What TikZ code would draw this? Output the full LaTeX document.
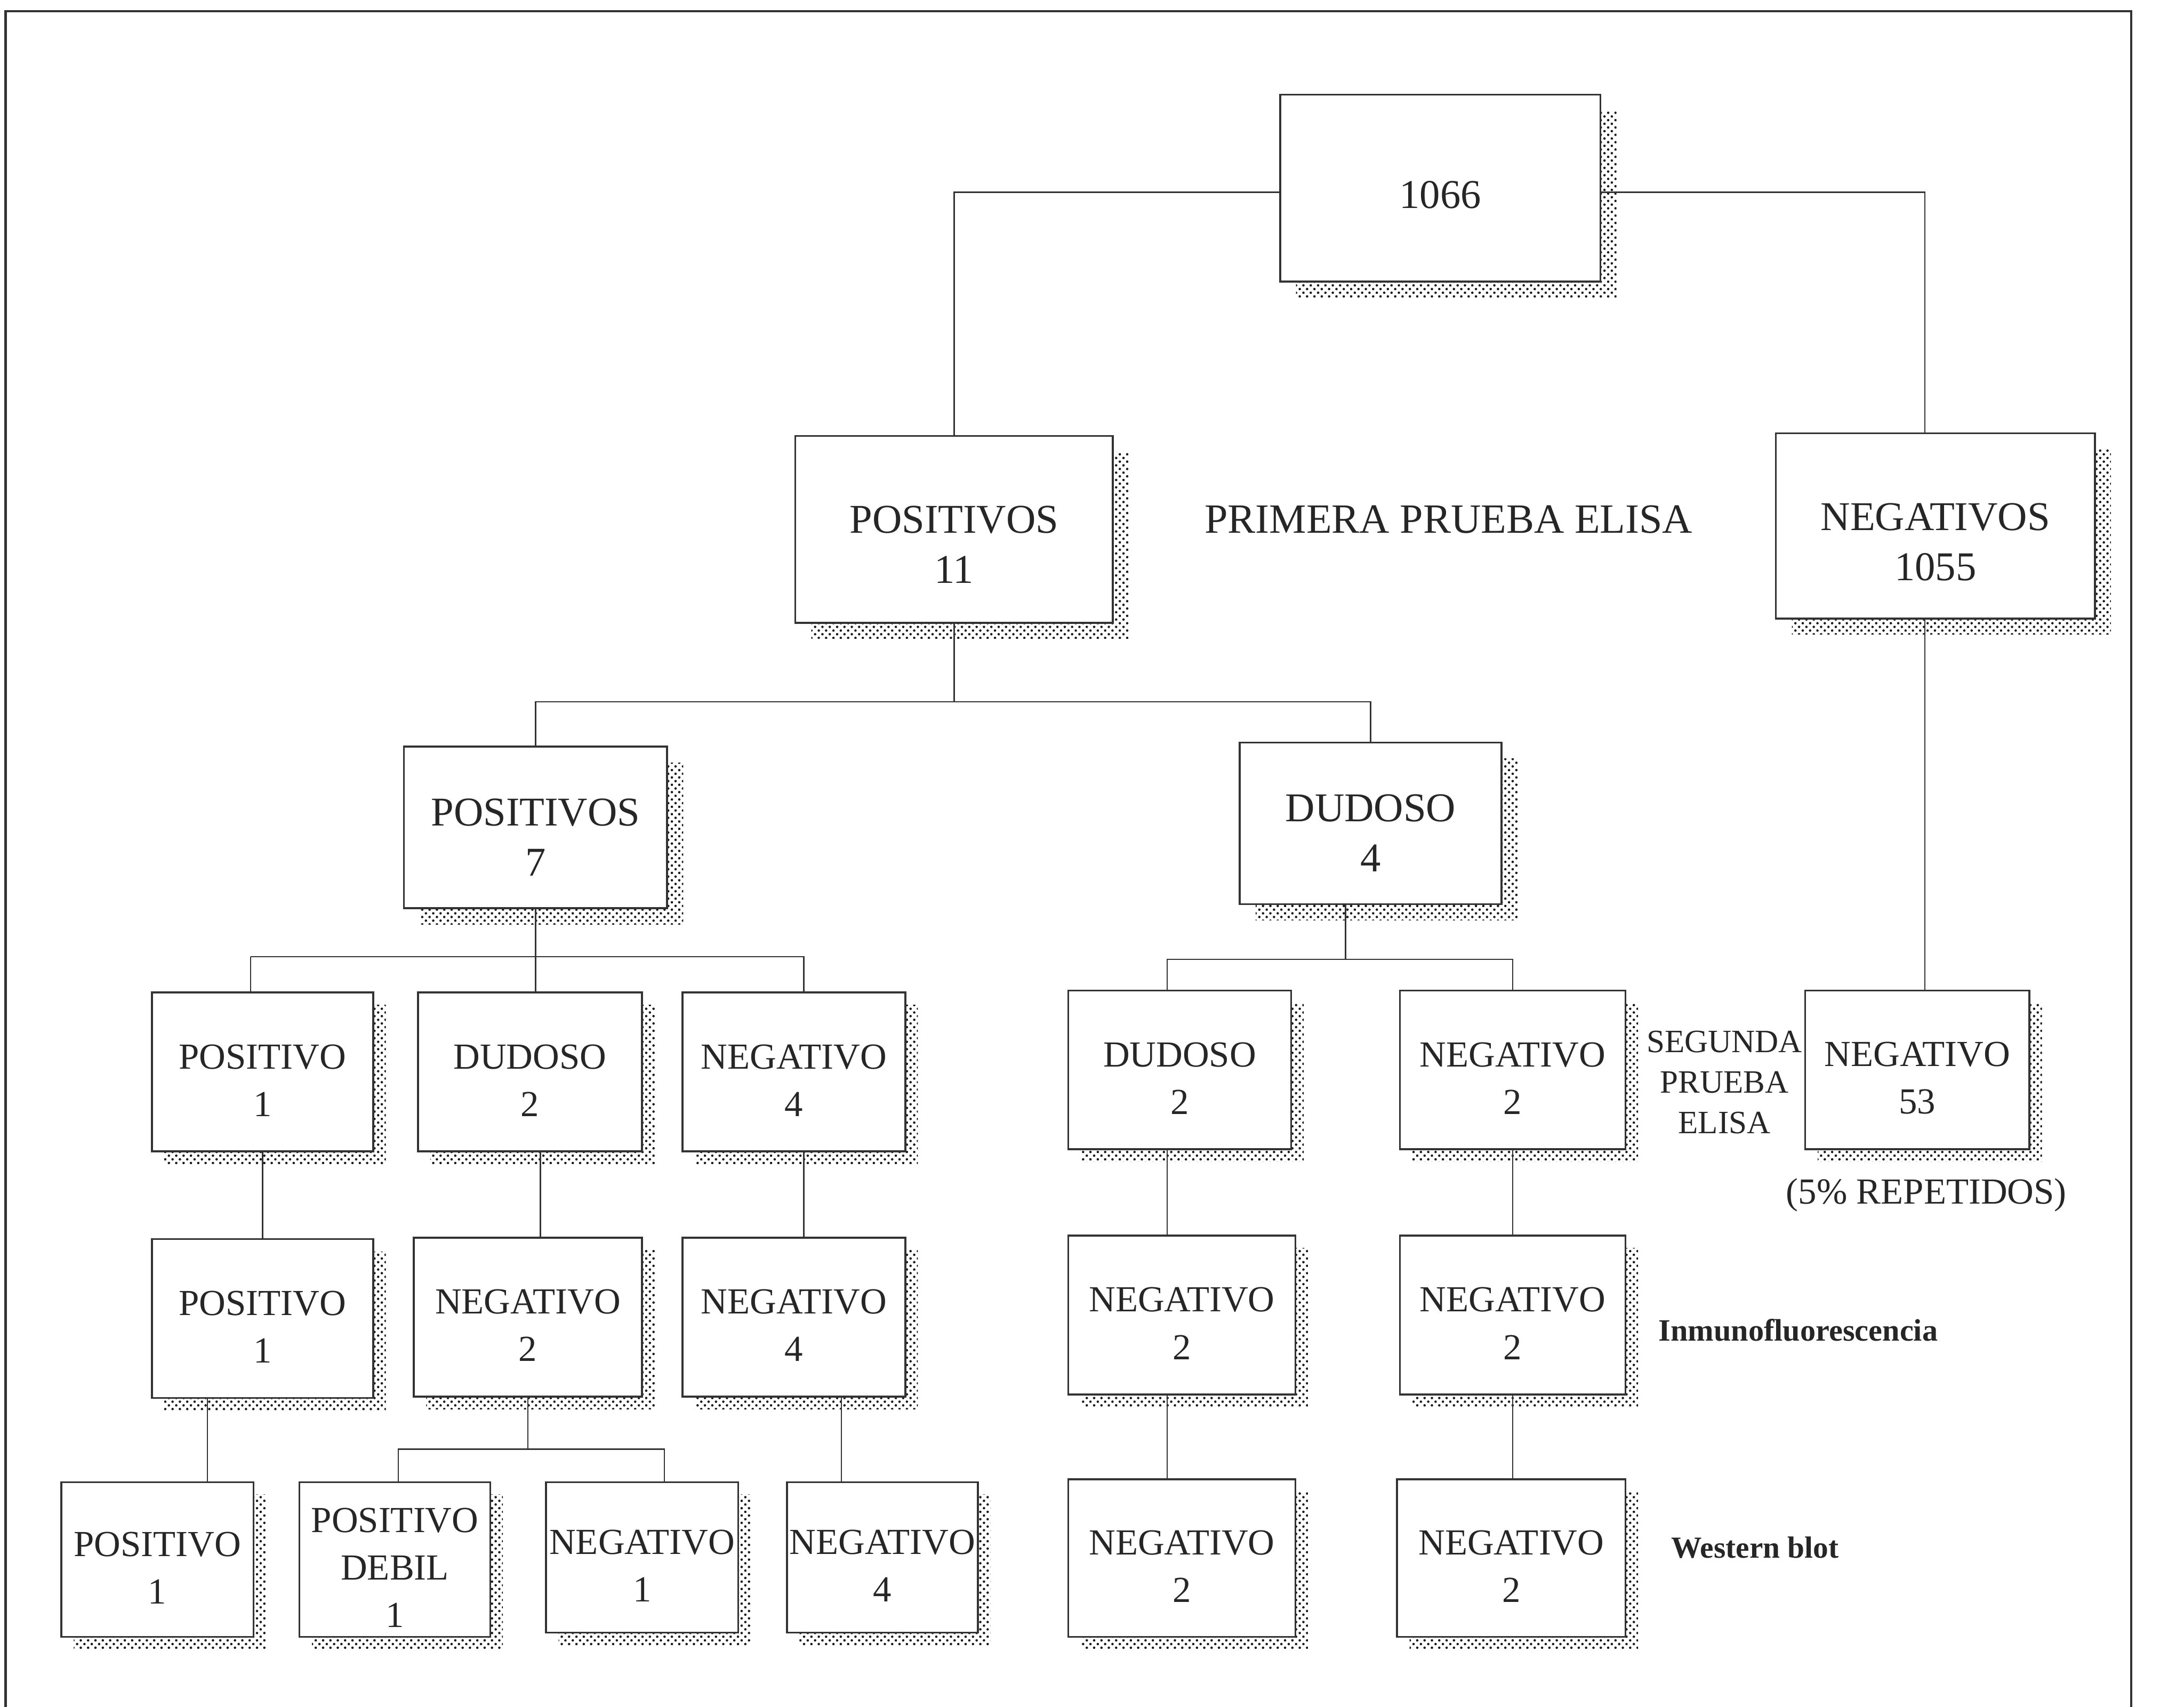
\documentclass[tikz,border=0pt]{standalone}
\usepackage{fontspec}
\setmainfont{Liberation Serif}
\usetikzlibrary{shadows,patterns}

\tikzset{
  boxbase/.style={rectangle, draw=black!80, line width=0.8pt, fill=white, inner sep=0pt},
  dotshadow/.style={drop shadow={shadow xshift=#1, shadow yshift=-#1, opacity=1, pattern=crosshatch dots, pattern color=black!90}},
  bigbox/.style={boxbase, dotshadow=2.3mm},
  box/.style={boxbase, dotshadow=1.8mm, minimum height=22.8mm},
  boxtext/.style={text=black!85, align=center, inner sep=0pt},
  bigtxt/.style 2 args={label={[boxtext, font=\fontsize{16.7pt}{20.5pt}\selectfont, yshift=-#1]center:{#2}}},
  txt/.style={label={[boxtext, font=\fontsize{15pt}{19.4pt}\selectfont, yshift=-1.2mm]center:{#1}}},
  note/.style={text=black!85, inner sep=0pt, align=center},
  link/.style={draw=black!80, line width=0.55pt}
}

\begin{document}
\begin{tikzpicture}[x=0.2mm, y=-0.2mm]
  \useasboundingbox (0,0) rectangle (1568,1225);
  % Frame
  \draw[black!80, line width=0.9pt] (4,1240) -- (4,8) -- (1530,8) -- (1530,1240);
  % Nodes
  \node (n1066) [bigbox, minimum width=46mm, minimum height=26.8mm, bigtxt={1mm}{1066}] at (1034,135) {};
  \node (pos11) [bigbox, minimum width=45.6mm, minimum height=26.8mm, bigtxt={2.2mm}{POSITIVOS\\11}] at (685,380) {};
  \node (neg1055) [bigbox, minimum width=45.8mm, minimum height=26.6mm, bigtxt={2.3mm}{NEGATIVOS\\1055}] at (1389.5,377.5) {};
  \node (pos7) [bigbox, minimum width=37.8mm, minimum height=23.2mm, bigtxt={1.4mm}{POSITIVOS\\7}] at (384.5,594) {};
  \node (dud4) [bigbox, minimum width=37.6mm, minimum height=23.2mm, bigtxt={1.4mm}{DUDOSO\\4}] at (984,591) {};
  % second ELISA
  \node (r3a) [box, minimum width=31.8mm, txt={POSITIVO\\1}] at (188.5,769.5) {};
  \node (r3b) [box, minimum width=32.2mm, txt={DUDOSO\\2}] at (380.5,769.5) {};
  \node (r3c) [box, minimum width=32mm, txt={NEGATIVO\\4}] at (570,769.5) {};
  \node (r3d) [box, minimum width=32mm, txt={DUDOSO\\2}] at (847,768) {};
  \node (r3e) [box, minimum width=32.4mm, txt={NEGATIVO\\2}] at (1086,768) {};
  \node (neg53) [box, minimum width=32.2mm, txt={NEGATIVO\\53}] at (1376.5,768) {};
  % inmunofluorescencia
  \node (r4a) [box, minimum width=31.8mm, txt={POSITIVO\\1}] at (188.5,946.5) {};
  \node (r4b) [box, minimum width=32.8mm, txt={NEGATIVO\\2}] at (379,945.5) {};
  \node (r4c) [box, minimum width=32mm, txt={NEGATIVO\\4}] at (570,945.5) {};
  \node (r4d) [box, minimum width=32.6mm, txt={NEGATIVO\\2}] at (848.5,944) {};
  \node (r4e) [box, minimum width=32.4mm, txt={NEGATIVO\\2}] at (1086,944) {};
  % western blot
  \node (r5a) [box, minimum width=27.6mm, minimum height=22.2mm, txt={POSITIVO\\1}] at (113,1119.5) {};
  \node (r5b) [box, minimum width=27.4mm, minimum height=22.2mm, txt={POSITIVO\\DEBIL\\1}] at (283.5,1119.5) {};
  \node (r5c) [box, minimum width=27.6mm, minimum height=21.6mm, txt={NEGATIVO\\1}] at (461,1118) {};
  \node (r5d) [box, minimum width=27.4mm, minimum height=21.6mm, txt={NEGATIVO\\4}] at (633.5,1118) {};
  \node (r5e) [box, minimum width=32.6mm, minimum height=22.6mm, txt={NEGATIVO\\2}] at (848.5,1118.5) {};
  \node (r5f) [box, minimum width=32.8mm, minimum height=22.6mm, txt={NEGATIVO\\2}] at (1085,1118.5) {};
  % Labels
  \node (elisa1) [note, font=\fontsize{17pt}{20pt}\selectfont] at (1040,373) {PRIMERA PRUEBA ELISA};
  \node (elisa2) [note, font=\fontsize{13.3pt}{16.5pt}\selectfont] at (1238,777) {SEGUNDA\\PRUEBA\\ELISA};
  \node (rep) [note, font=\fontsize{15pt}{18pt}\selectfont] at (1383,858) {(5\% REPETIDOS)};
  \node (ifi) [note, font=\fontsize{12.7pt}{15pt}\selectfont\bfseries] at (1291,955) {Inmunofluorescencia};
  \node (wb) [note, font=\fontsize{12.5pt}{15pt}\selectfont\bfseries] at (1260,1111) {Western blot};
  % Lines
  \draw[link] ([yshift=-0.6mm]n1066.west) -| (pos11.north);
  \draw[link] ([yshift=-0.6mm]n1066.east) -| ([xshift=-1.5mm]neg1055.north);
  \draw[link] (pos11.south) -- ++(0,56) coordinate (bus1);
  \draw[link] (pos7.north) |- (bus1) -| (dud4.north);
  \draw[link] (pos7.south) -- (pos7.south |- r3b.north);
  \draw[link] ([xshift=-1.7mm]r3a.north) -- ++(0,-25) coordinate (bus2);
  \draw[link] (bus2) -| ([xshift=1.4mm]r3c.north);
  \draw[link] ([xshift=-3.6mm]dud4.south) -- ++(0,39) coordinate (bus3);
  \draw[link] ([xshift=-1.8mm]r3d.north) |- (bus3) -| (r3e.north);
  \draw[link] ([xshift=-1.5mm]neg1055.south) -- ([xshift=-1.5mm]neg1055.south |- neg53.north);
  \draw[link] (r3a.south) -- (r4a.north);
  \draw[link] ([xshift=1.5mm]r3b.south) -- ([xshift=1.5mm]r3b.south |- r4b.north);
  \draw[link] ([xshift=1.4mm]r3c.south) -- ([xshift=1.4mm]r3c.south |- r4c.north);
  \draw[link] ([xshift=-1.8mm]r3d.south) -- ([xshift=-1.8mm]r3d.south |- r4d.north);
  \draw[link] (r3e.south) -- (r3e.south |- r4e.north);
  \draw[link] ([xshift=-7.9mm]r4a.south) -- ([xshift=-7.9mm]r4a.south |- r5a.north);
  \draw[link] (r4b.south) -- ++(0,37) coordinate (bus4);
  \draw[link] ([xshift=0.5mm]r5b.north) |- (bus4) -| ([xshift=3.2mm]r5c.north);
  \draw[link] ([xshift=6.8mm]r4c.south) -- ([xshift=6.8mm]r4c.south |- r5d.north);
  \draw[link] ([xshift=-2.1mm]r4d.south) -- ([xshift=-2.1mm]r4d.south |- r5e.north);
  \draw[link] (r4e.south) -- (r4e.south |- r5f.north);
\end{tikzpicture}
\end{document}
